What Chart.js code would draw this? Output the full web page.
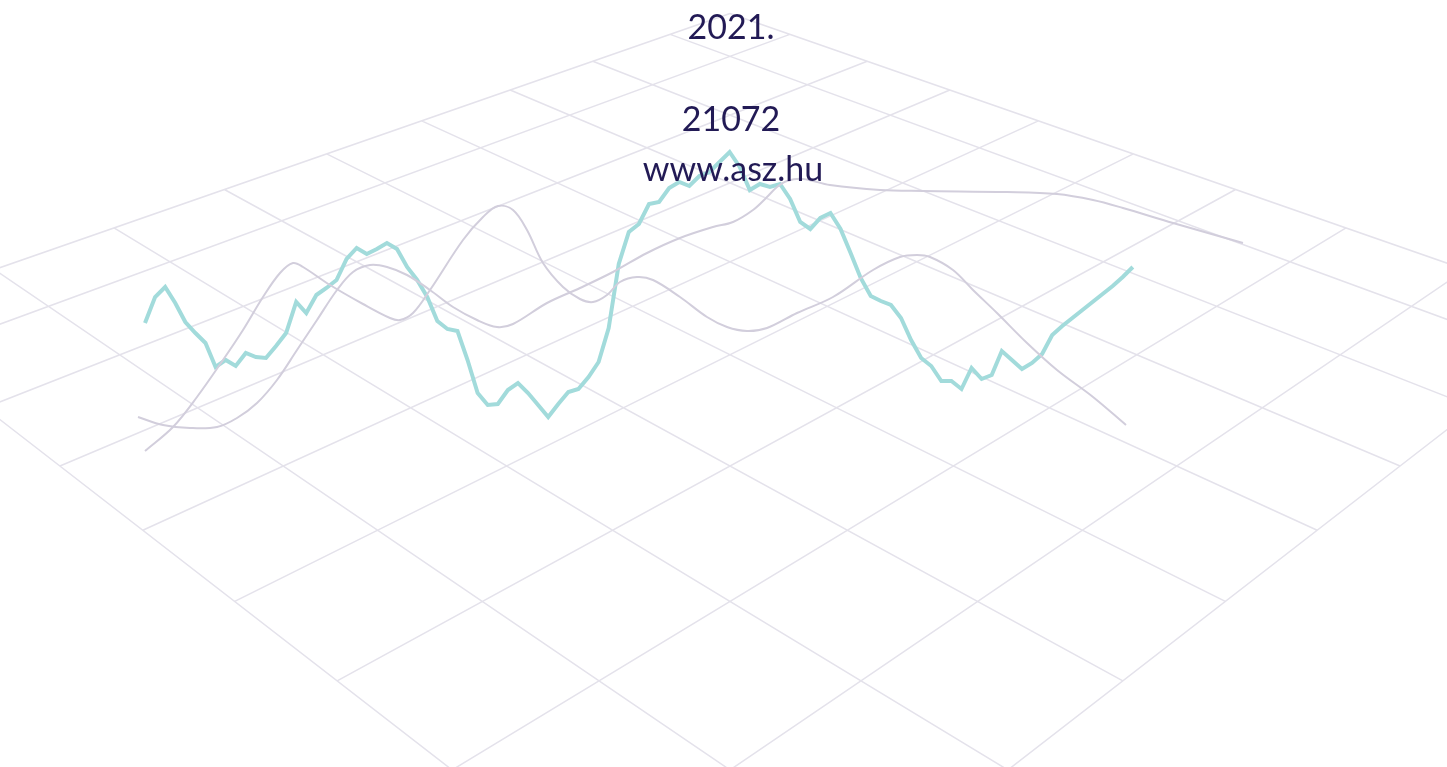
<!DOCTYPE html>
<html>
<head>
<meta charset="utf-8">
<script src="https://cdn.jsdelivr.net/npm/chart.js@4.4.0/dist/chart.umd.min.js"></script>
<style>
  html, body { margin: 0; padding: 0; background: #fff; }
  #wrap { width: 1447px; height: 767px; }
</style>
</head>
<body>
<div id="wrap"><canvas id="chart"></canvas></div>
<script>
// teal series, one value per step
const tealValues = [
  444, 470, 480, 464, 445, 434, 424, 400, 407, 401,
  414, 410, 409, 421, 434, 465, 454, 472, 479, 487,
  508, 519, 513, 518, 524, 518, 500, 487, 470, 446,
  438, 436, 407, 374, 362, 363, 377, 384, 374, 362,
  350, 363, 375, 378, 390, 405, 439, 503, 535, 543,
  563, 565, 579, 585, 581, 591, 595, 605, 615, 600,
  577, 583, 580, 583, 568, 545, 538, 549, 554, 538,
  514, 489, 471, 466, 462, 449, 427, 409, 401, 386,
  386, 378, 399, 388, 392, 416, 407, 398, 404, 413,
  432, 441, 449, 457, 465, 473, 481, 490, 500
];

// grey curves
const grayAX = [145, 173, 197, 223, 243, 263, 280, 293, 303, 330, 363, 390, 400, 413, 430, 463, 483, 498, 513, 527,
  543, 563, 580, 593, 607, 620, 637, 653, 680, 707, 727, 747, 767, 797, 833, 873, 900, 917, 930, 953,
  973, 997, 1027, 1057, 1093, 1126];
const grayAY = [316, 340, 370, 407, 437, 470, 494, 504, 500, 482, 463, 449, 447, 454, 477, 527, 550, 561, 557, 537,
  504, 480, 468, 465, 472, 485, 490, 487, 470, 450, 440, 436, 439, 454, 470, 497, 510, 512, 510, 497,
  477, 454, 424, 397, 370, 342];

const grayBX = [138, 163, 190, 217, 237, 257, 277, 297, 317, 337, 353, 370, 387, 407, 430, 453, 477, 497, 513, 547,
  580, 613, 647, 680, 713, 733, 753, 767, 777, 787, 803, 830, 880, 923, 1007, 1057, 1093, 1123, 1173, 1243];
const grayBY = [350, 342, 339, 340, 349, 364, 387, 417, 447, 477, 495, 502, 500, 492, 477, 460, 447, 440, 443, 464,
  479, 495, 514, 529, 540, 545, 557, 570, 580, 586, 588, 582, 577, 576, 575, 573, 567, 559, 544, 524];

const titleLines = ['2021.', '21072', 'www.asz.hu'];

const tealStart = 145, tealStep = 10.08;
const tealData = tealValues.map((v, i) => ({ x: tealStart + i * tealStep, y: v }));
const grayAData = grayAX.map((x, i) => ({ x: x, y: grayAY[i] }));
const grayBData = grayBX.map((x, i) => ({ x: x, y: grayBY[i] }));

// grille en perspective sous les courbes
const perspectiveGrid = {
  id: 'perspectiveGrid',
  beforeDatasetsDraw(chart) {
    const ctx = chart.ctx;
    const cx = 730, yh = -779, cell = 0.1794, w0 = 8.032e-4, dw = 3.94e-5;
    const pMin = -3, pMax = 5.82, qMin = -5.82, qMax = 3;
    const proj = (p, q) => {
      const n = q - p;
      const u = (p + q) / 2 * cell;
      const w = w0 - n * dw;
      return [cx + u / w, yh + 1 / w];
    };
    const ps = [pMin];
    for (let p = Math.floor(pMin) + 1; p < pMax; p++) ps.push(p);
    ps.push(pMax);
    const qs = [qMin];
    for (let q = Math.floor(qMin) + 1; q < qMax; q++) qs.push(q);
    qs.push(qMax);

    ctx.save();
    ctx.strokeStyle = '#e4e2eb';
    ctx.lineWidth = 1.5;
    ctx.beginPath();
    ps.forEach(p => {
      const a = proj(p, qMin), b = proj(p, qMax);
      ctx.moveTo(a[0], a[1]);
      ctx.lineTo(b[0], b[1]);
    });
    qs.forEach(q => {
      const a = proj(pMin, q), b = proj(pMax, q);
      ctx.moveTo(a[0], a[1]);
      ctx.lineTo(b[0], b[1]);
    });
    ctx.stroke();
    ctx.restore();
  }
};

const titleText = {
  id: 'titleText',
  afterDraw(chart) {
    const ctx = chart.ctx;
    ctx.save();
    ctx.fillStyle = '#221a55';
    ctx.font = '34px Lato';
    ctx.textAlign = 'center';
    ctx.textBaseline = 'alphabetic';
    ctx.fillText(titleLines[0], 731, 39);
    ctx.fillText(titleLines[1], 731, 131);
    ctx.fillText(titleLines[2], 733, 181);
    ctx.restore();
  }
};

new Chart(document.getElementById('chart'), {
  type: 'line',
  data: {
    datasets: [
      {
        data: grayAData,
        borderColor: '#d2cedc',
        borderWidth: 2,
        tension: 0.35,
        pointRadius: 0,
      },
      {
        data: grayBData,
        borderColor: '#d2cedc',
        borderWidth: 2,
        tension: 0.35,
        pointRadius: 0,
      },
      {
        data: tealData,
        borderColor: '#a2dbdb',
        borderWidth: 4,
        tension: 0,
        pointRadius: 0,
      },
    ],
  },
  options: {
    responsive: true,
    maintainAspectRatio: false,
    animation: false,
    layout: { padding: 0 },
    plugins: {
      legend: { display: false },
      tooltip: { enabled: false },
    },
    scales: {
      x: { type: 'linear', min: 0, max: 1447, display: false },
      y: { type: 'linear', min: 0, max: 767, display: false },
    },
  },
  plugins: [perspectiveGrid, titleText],
});
</script>
</body>
</html>
